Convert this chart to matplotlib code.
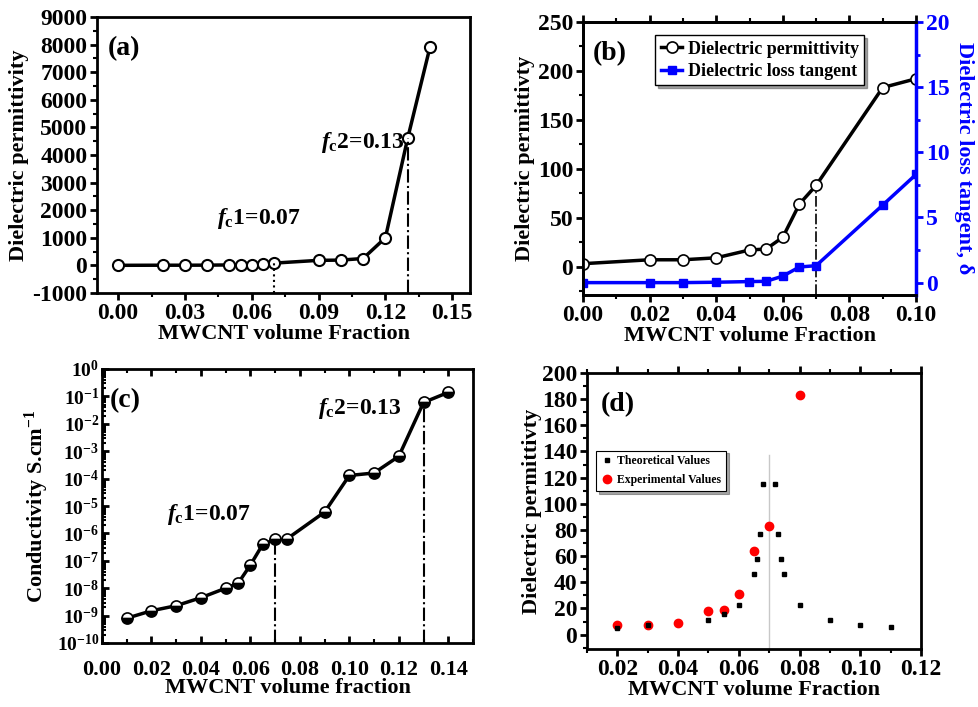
import numpy as np
import matplotlib
matplotlib.use("Agg")
import matplotlib.pyplot as plt
from matplotlib.ticker import MultipleLocator, LogLocator, NullFormatter

plt.rcParams['font.family'] = 'Liberation Serif'
plt.rcParams['font.weight'] = 'bold'
plt.rcParams['mathtext.fontset'] = 'custom'
plt.rcParams['mathtext.rm'] = 'Liberation Serif:bold'
plt.rcParams['mathtext.it'] = 'Liberation Serif:italic:bold'
plt.rcParams['mathtext.bf'] = 'Liberation Serif:bold'
plt.rcParams['axes.linewidth'] = 2.0
plt.rcParams['axes.unicode_minus'] = False

# --- data ---
# (a) permittivity over full range
xa = [0.0, 0.02, 0.03, 0.04, 0.05, 0.055, 0.06, 0.065, 0.07, 0.09, 0.10, 0.11, 0.12, 0.13, 0.14]
ya = [3, 7, 7, 9, 17, 18, 30, 64, 83, 183, 192, 250, 1000, 4600, 7900]

# (b) permittivity and loss tangent
xb = [0.0, 0.02, 0.03, 0.04, 0.05, 0.055, 0.06, 0.065, 0.07, 0.09, 0.10]
eps_b = [3, 7, 7, 9, 17, 18, 30, 64, 83, 183, 192]
tan_b = [0.0, 0.0, 0.0, 0.03, 0.08, 0.1, 0.5, 1.2, 1.3, 5.95, 8.3]

# (c) conductivity
xc1 = [0.01, 0.02, 0.03, 0.04, 0.05, 0.055, 0.06, 0.065, 0.07]
sc1 = [8e-10, 1.5e-9, 2.3e-9, 4.5e-9, 1.0e-8, 1.5e-8, 7e-8, 4e-7, 6e-7]
xc2 = [0.075, 0.09, 0.10, 0.11, 0.12, 0.13, 0.14]
sc2 = [6.5e-7, 6e-6, 1.3e-4, 1.6e-4, 6.5e-4, 6e-2, 1.4e-1]

# (d) theoretical vs experimental
x_theo = [0.02, 0.03, 0.05, 0.055, 0.06, 0.065, 0.066, 0.067, 0.068,
          0.072, 0.073, 0.074, 0.075, 0.08, 0.09, 0.10, 0.11]
y_theo = [5, 7, 11.5, 15.5, 23, 46, 58, 77, 115.5,
          115.5, 77, 58, 46, 23, 11.5, 7.6, 5.9]
x_exp = [0.02, 0.03, 0.04, 0.05, 0.055, 0.06, 0.065, 0.07, 0.08]
y_exp = [7, 7.5, 9, 18, 18.5, 31, 64, 83, 183]

W, H = 979, 707
fig = plt.figure(figsize=(W / 100, H / 100), dpi=100)


def box(l, r, t, b):
    return [l / W, 1 - b / H, (r - l) / W, (b - t) / H]


tick_fs = 17
lab_fs = 16

# ---------- (a) ----------
ax = fig.add_axes(box(97, 470, 17, 293))
ax.plot(xa, ya, '-o', color='black', lw=2.5, ms=8, mfc='white', mec='black', mew=1.5)
ax.plot([0.07, 0.07], [-1000, 83], ':', color='black', lw=1.5)
ax.plot([0.13, 0.13], [-1000, 4600], '-.', color='black', lw=1.5)
ax.set_xlim(-0.0095, 0.158)
ax.set_ylim(-1000, 9000)
ax.xaxis.set_major_locator(MultipleLocator(0.03))
ax.xaxis.set_minor_locator(MultipleLocator(0.015))
ax.yaxis.set_major_locator(MultipleLocator(1000))
ax.yaxis.set_minor_locator(MultipleLocator(500))
ax.xaxis.set_major_formatter(plt.FormatStrFormatter('%.2f'))
ax.tick_params(direction='out', width=2, length=5, labelsize=tick_fs, pad=2)
ax.tick_params(which='minor', direction='out', width=1.5, length=3)
ax.set_xlabel('MWCNT volume Fraction', fontsize=lab_fs, fontweight='bold', labelpad=0)
ax.set_ylabel('Dielectric permittivity', fontsize=lab_fs, fontweight='bold', labelpad=2)
ax.text(0.03, 0.93, '(a)', transform=ax.transAxes, fontsize=20, fontweight='bold', va='top')
ax.text(0.0445, 1500, r'$f_{\rm c}$1=0.07', fontsize=17)
ax.text(0.1285, 4250, r'$f_{\rm c}$2=0.13', fontsize=17, ha='right')

# ---------- (b) ----------
ax = fig.add_axes(box(583, 916, 22, 295))
ax.plot(xb, eps_b, '-o', color='black', lw=2.5, ms=8, mfc='white', mec='black', mew=1.2,
        label='Dielectric permittivity', zorder=3)
ax.plot([0.07, 0.07], [-29, 83], '-.', color='black', lw=1.2)
ax.set_xlim(0, 0.10)
ax.set_ylim(-29, 250)
ax.xaxis.set_major_locator(MultipleLocator(0.02))
ax.xaxis.set_minor_locator(MultipleLocator(0.01))
ax.yaxis.set_major_locator(MultipleLocator(50))
ax.yaxis.set_minor_locator(MultipleLocator(25))
ax.xaxis.set_major_formatter(plt.FormatStrFormatter('%.2f'))
ax.tick_params(direction='out', width=2, length=5, labelsize=tick_fs, pad=2)
ax.tick_params(which='minor', direction='out', width=1.5, length=3)
ax.tick_params(axis='x', which='both', top=True)
ax.set_xlabel('MWCNT volume Fraction', fontsize=lab_fs, fontweight='bold', labelpad=0)
ax.set_ylabel('Dielectric permittivty', fontsize=lab_fs, fontweight='bold', labelpad=2)
ax.text(0.03, 0.93, '(b)', transform=ax.transAxes, fontsize=20, fontweight='bold', va='top')
ax2 = ax.twinx()
ax2.plot(xb, tan_b, '-s', color='blue', lw=2.5, ms=6, label='Dielectric loss tangent')
ax2.set_ylim(-0.95, 20)
ax2.yaxis.set_major_locator(MultipleLocator(5))
ax2.yaxis.set_minor_locator(MultipleLocator(2.5))
ax2.spines['right'].set_color('blue')
ax2.spines['right'].set_linewidth(2.5)
ax2.tick_params(axis='y', which='both', colors='blue', direction='out', width=2, length=5,
                labelsize=tick_fs, pad=2)
ax2.tick_params(axis='y', which='minor', length=3)
ax2.set_ylabel('Dielectric loss tangent, δ', fontsize=lab_fs, fontweight='bold',
               color='blue', rotation=270, labelpad=18)
h1, l1 = ax.get_legend_handles_labels()
h2, l2 = ax2.get_legend_handles_labels()
leg = ax2.legend(h1 + h2, l1 + l2, loc='upper left', bbox_to_anchor=(0.19, 0.985),
                 fontsize=13, frameon=True, fancybox=False, shadow=True,
                 handlelength=1.2, handletextpad=0.3, borderpad=0.3, labelspacing=0.3)
leg.get_frame().set_edgecolor('black')
leg.get_frame().set_linewidth(1.0)

# ---------- (c) ----------
ax = fig.add_axes(box(102, 473, 369, 643))
for xs, ss in [(xc1, sc1), (xc2, sc2)]:
    ax.plot(xs, ss, '-o', color='black', lw=2.5, ms=8, fillstyle='bottom',
            mfc='black', mfcalt='white', mec='black', mew=1.2)
ax.plot([0.07, 0.07], [1e-10, 6e-7], '-.', color='black', lw=1.5)
ax.plot([0.13, 0.13], [1e-10, 6e-2], '-.', color='black', lw=1.5)
ax.set_yscale('log')
ax.set_xlim(0, 0.15)
ax.set_ylim(1e-10, 1)
ax.xaxis.set_major_locator(MultipleLocator(0.02))
ax.xaxis.set_minor_locator(MultipleLocator(0.01))
ax.yaxis.set_major_locator(LogLocator(base=10, numticks=12))
ax.yaxis.set_minor_locator(LogLocator(base=10, subs=np.arange(2, 10), numticks=12))
ax.yaxis.set_minor_formatter(NullFormatter())
ax.xaxis.set_major_formatter(plt.FormatStrFormatter('%.2f'))
ax.tick_params(direction='in', width=2, length=5, top=True)
ax.tick_params(axis='y', labelsize=14, pad=2)
ax.tick_params(axis='x', labelsize=16, pad=12)
ax.tick_params(which='minor', direction='in', width=1.5, length=3, top=True)
ax.set_xlabel('MWCNT volume fraction', fontsize=lab_fs, fontweight='bold', labelpad=-1)
ax.set_ylabel(r'Conductivity S.cm$^{\mathbf{-1}}$', fontsize=lab_fs, fontweight='bold')
ax.text(0.02, 0.93, '(c)', transform=ax.transAxes, fontsize=20, fontweight='bold', va='top')
ax.text(0.0263, 3e-6, r'$f_{\rm c}$1=0.07', fontsize=17)
ax.text(0.0873, 2.2e-2, r'$f_{\rm c}$2=0.13', fontsize=17)

# ---------- (d) ----------
ax = fig.add_axes(box(587, 921, 373, 649))
ax.plot([0.07, 0.07], [-11, 137], '-', color='#c8c8c8', lw=1.0, zorder=1)
ax.plot(x_theo, y_theo, 's', color='black', ms=2.5, ls='none', label='Theoretical Values', zorder=3)
ax.plot(x_exp, y_exp, 'o', color='red', ms=6, ls='none', label='Experimental Values', zorder=2)
ax.set_xlim(0.01, 0.12)
ax.set_ylim(-11, 200)
ax.xaxis.set_major_locator(MultipleLocator(0.02))
ax.xaxis.set_minor_locator(MultipleLocator(0.01))
ax.yaxis.set_major_locator(MultipleLocator(20))
ax.yaxis.set_minor_locator(MultipleLocator(10))
ax.xaxis.set_major_formatter(plt.FormatStrFormatter('%.2f'))
ax.tick_params(direction='out', width=2, length=5, labelsize=tick_fs, pad=2)
ax.tick_params(which='minor', direction='out', width=1.5, length=3)
ax.tick_params(axis='x', which='both', top=True)
ax.set_xlabel('MWCNT volume Fraction', fontsize=lab_fs, fontweight='bold', labelpad=0)
ax.set_ylabel('Dielectric permittivty', fontsize=lab_fs, fontweight='bold', labelpad=0)
ax.text(0.04, 0.93, '(d)', transform=ax.transAxes, fontsize=20, fontweight='bold', va='top')
leg = ax.legend(loc='upper left', bbox_to_anchor=(0.01, 0.74), fontsize=8.5, frameon=True,
                fancybox=False, shadow=True, handlelength=1.0, handletextpad=0.4,
                borderpad=0.4, labelspacing=0.6)
leg.get_frame().set_edgecolor('black')
leg.get_frame().set_linewidth(0.8)

fig.savefig('out.png', dpi=100)
